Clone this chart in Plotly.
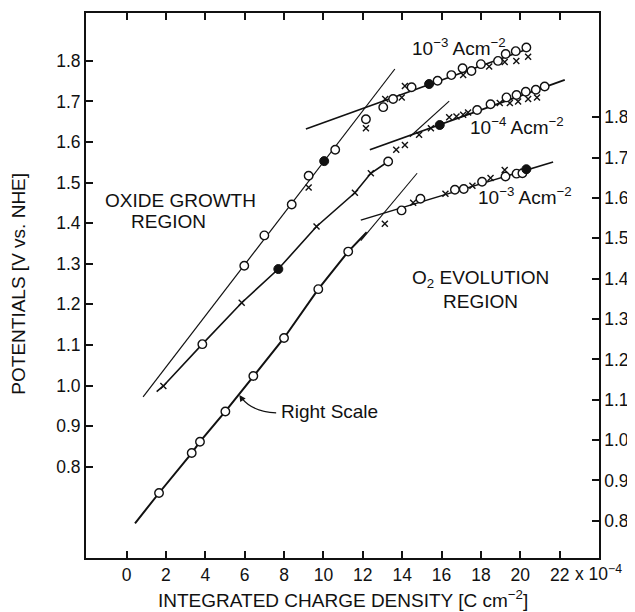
import plotly.graph_objects as go

# ---------------- data (x in 1e-4 C cm^-2, potentials in V vs NHE) -------------
# Series A: 1e-3 A cm^-2, left scale
a_circ_x = [5.98, 7.0, 8.39, 9.25, 10.6, 12.16, 13.04, 13.54, 14.48, 15.8, 16.5, 17.07, 17.52, 18.0, 18.87, 19.26, 19.77, 20.31]
a_circ_y = [1.295, 1.370, 1.446, 1.517, 1.581, 1.656, 1.686, 1.706, 1.735, 1.751, 1.765, 1.782, 1.775, 1.792, 1.800, 1.817, 1.824, 1.833]
a_cross_x = [9.25, 12.16, 13.14, 13.98, 14.14, 17.1, 18.42, 19.21, 19.8, 20.4]
a_cross_y = [1.488, 1.634, 1.706, 1.710, 1.738, 1.765, 1.786, 1.797, 1.800, 1.810]
a_fill_x = [10.04, 15.37]
a_fill_y = [1.553, 1.743]
a_steep_x = [0.84, 13.63]
a_steep_y = [0.972, 1.780]
a_shallow_x = [9.11, 20.48]
a_shallow_y = [1.632, 1.831]

# Series B: 1e-4 A cm^-2, left scale
b_cross_x = [1.87, 3.85, 5.85, 9.65, 11.6, 12.41, 13.7, 14.14, 14.86, 15.46, 16.39, 16.76, 17.1, 17.35, 18.96, 19.47, 19.89, 20.4, 20.85]
b_cross_y = [0.999, 1.102, 1.204, 1.392, 1.475, 1.523, 1.581, 1.593, 1.618, 1.634, 1.661, 1.663, 1.667, 1.673, 1.696, 1.696, 1.700, 1.706, 1.710]
b_circ_x = [3.85, 13.29, 17.81, 18.49, 19.3, 19.81, 20.28, 20.79, 21.24]
b_circ_y = [1.102, 1.552, 1.679, 1.693, 1.710, 1.716, 1.724, 1.729, 1.737]
b_fill_x = [7.71, 15.91]
b_fill_y = [1.287, 1.642]
b_oxide_x = [1.53, 1.87, 3.85, 5.85, 7.71, 9.65, 11.6, 12.41, 13.29]
b_oxide_y = [0.985, 0.999, 1.102, 1.204, 1.287, 1.392, 1.475, 1.523, 1.552]
b_steep_x = [14.39, 16.39]
b_steep_y = [1.613, 1.701]
b_shallow_x = [12.36, 22.26]
b_shallow_y = [1.581, 1.753]

# Series C: 1e-3 A cm^-2, right scale
c_circ_x = [1.65, 3.31, 3.73, 5.02, 6.44, 8.0, 9.74, 11.26, 13.97, 14.93, 16.68, 17.13, 18.06, 19.25, 19.81, 20.11]
c_circ_y = [0.869, 0.968, 0.996, 1.071, 1.159, 1.253, 1.374, 1.467, 1.569, 1.598, 1.620, 1.622, 1.640, 1.653, 1.660, 1.661]
c_cross_x = [13.12, 14.56, 16.2, 17.57, 18.49, 19.21]
c_cross_y = [1.536, 1.588, 1.610, 1.630, 1.649, 1.669]
c_fill_x = [20.31]
c_fill_y = [1.671]
c_oxide_x = [0.43, 1.65, 3.31, 3.73, 5.02, 6.44, 8.0, 9.74, 11.26, 12.2]
c_oxide_y = [0.794, 0.869, 0.968, 0.996, 1.071, 1.159, 1.253, 1.374, 1.467, 1.515]
c_steep_x = [11.9, 14.76]
c_steep_y = [1.494, 1.661]
c_shallow_x = [11.9, 21.67]
c_shallow_y = [1.545, 1.689]

x_ticks = list(range(0, 23, 2))
left_ticks = [0.8, 0.9, 1.0, 1.1, 1.2, 1.3, 1.4, 1.5, 1.6, 1.7, 1.8]
right_ticks = [0.8, 0.9, 1.0, 1.1, 1.2, 1.3, 1.4, 1.5, 1.6, 1.7, 1.8]

FONT = "Liberation Sans, Arial, Helvetica, sans-serif"
BLK = "#111111"

fig = go.Figure()


def line(x, y, w, yaxis="y"):
    fig.add_trace(go.Scatter(x=x, y=y, mode="lines", yaxis=yaxis,
                             line=dict(color=BLK, width=w), hoverinfo="skip",
                             showlegend=False))


def markers(x, y, kind, yaxis="y"):
    if kind == "circ":
        m = dict(symbol="circle", size=8.5, color="white", line=dict(color=BLK, width=1.4))
    elif kind == "cross":
        m = dict(symbol="x-thin", size=6, color=BLK, line=dict(color=BLK, width=1.4))
    else:
        m = dict(symbol="circle", size=9, color=BLK, line=dict(color=BLK, width=1))
    fig.add_trace(go.Scatter(x=x, y=y, mode="markers", yaxis=yaxis, marker=m,
                             showlegend=False))


# lines
line(a_steep_x, a_steep_y, 1.2)
line(a_shallow_x, a_shallow_y, 1.5)
line(b_oxide_x, b_oxide_y, 1.6)
line(b_steep_x, b_steep_y, 1.1)
line(b_shallow_x, b_shallow_y, 1.8)
line(c_oxide_x, c_oxide_y, 2.0, "y2")
line(c_steep_x, c_steep_y, 1.1, "y2")
line(c_shallow_x, c_shallow_y, 1.5, "y2")

# markers
markers(a_cross_x, a_cross_y, "cross")
markers(a_circ_x, a_circ_y, "circ")
markers(a_fill_x, a_fill_y, "fill")
markers(b_cross_x, b_cross_y, "cross")
markers(b_circ_x, b_circ_y, "circ")
markers(b_fill_x, b_fill_y, "fill")
markers(c_cross_x, c_cross_y, "cross", "y2")
markers(c_circ_x, c_circ_y, "circ", "y2")
markers(c_fill_x, c_fill_y, "fill", "y2")

axis_common = dict(showgrid=False, zeroline=False, ticks="inside", ticklen=7,
                   tickwidth=1.5, tickcolor=BLK, showline=True, linecolor=BLK,
                   automargin=False,
                   tickfont=dict(family=FONT, size=17.5, color=BLK))

# page body has an 8px margin: the figure is sized/margined to compensate
fig.update_layout(
    width=627, height=604, autosize=False,
    margin=dict(l=78, r=36, t=5, b=54),
    paper_bgcolor="white", plot_bgcolor="white",
    font=dict(family=FONT, size=19, color=BLK),
    xaxis=dict(range=[-2.06, 24.0], tickvals=x_ticks, ticktext=[str(v) for v in x_ticks],
               mirror="ticks", linewidth=2, **axis_common),
    yaxis=dict(range=[0.575, 1.918], tickvals=left_ticks,
               ticktext=[f"{v:.1f}" for v in left_ticks], linewidth=2, **axis_common),
    yaxis2=dict(range=[0.708, 2.058], tickvals=right_ticks,
                ticktext=[f"{v:.1f}" for v in right_ticks], overlaying="y", side="right",
                linewidth=1.5, **axis_common),
)


def txt(x, y, s, yref="y", xref="x", xanchor="center", size=19, **kw):
    fig.add_annotation(x=x, y=y, xref=xref, yref=yref, text=s, showarrow=False,
                       xanchor=xanchor, yanchor="middle",
                       font=dict(family=FONT, size=size, color=BLK), **kw)


txt(16.88, 1.833, "10<sup>−3</sup> Acm<sup>−2</sup>")
txt(19.82, 1.640, "10<sup>−4</sup> Acm<sup>−2</sup>")
txt(20.23, 1.466, "10<sup>−3</sup> Acm<sup>−2</sup>")
txt(2.72, 1.457, "OXIDE GROWTH")
txt(2.13, 1.403, "REGION")
txt(18.0, 1.262, "O<sub>2</sub> EVOLUTION")
txt(18.0, 1.208, "REGION")
txt(7.74, 1.071, "Right Scale", yref="y2", xanchor="left")

# curved pointer for "Right Scale"
fig.add_shape(type="path", xref="x", yref="y2",
              path="M 7.6,1.0675 Q 6.4,1.07 5.85,1.104",
              line=dict(color=BLK, width=1.3))
fig.add_annotation(x=5.73, y=1.112, xref="x", yref="y2", text="", showarrow=True,
                   arrowhead=2, arrowsize=1, arrowwidth=1.3, arrowcolor=BLK,
                   ax=4, ay=6)

# axis titles
txt(10.99, -0.075, "INTEGRATED CHARGE DENSITY [C cm<sup>−2</sup>]", yref="paper")
txt(22.7, -0.027, "x 10<sup>−4</sup>", yref="paper", xanchor="left", size=17.5)
fig.add_annotation(x=-0.131, y=0.503, xref="paper", yref="paper",
                   xanchor="center", yanchor="middle",
                   text="POTENTIALS [V vs. NHE]", showarrow=False, textangle=-90,
                   font=dict(family=FONT, size=19, color=BLK))

fig.write_html("out.html")
